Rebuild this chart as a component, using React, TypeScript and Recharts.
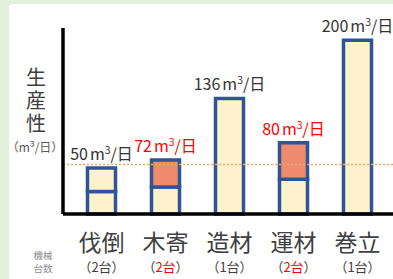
import { BarChart, Bar, XAxis, YAxis, ReferenceLine, LabelList, Cell } from "recharts";

const categories = ["伐倒", "木寄", "造材", "運材", "巻立"];
const machineCounts = ["2台", "2台", "1台", "2台", "1台"];
const countColors = ["#404040", "#FF0000", "#404040", "#FF0000", "#404040"];
const lowerValues = [26, 31, 133, 40, 200];
const upperValues = [27, 31, 0, 42, 0];
const upperFills = ["#FFF2CC", "#EE8B6E", "#FFF2CC", "#EE8B6E", "#FFF2CC"];
const valueLabels = ["50", "72", "136", "80", "200"];
const labelColors = ["#333333", "#FF0000", "#333333", "#FF0000", "#333333"];
const baselineValue = 57;

const data = categories.map((name, i) => ({
  name,
  lower: lowerValues[i],
  upper: upperValues[i],
}));

const FONT = '"Noto Sans CJK JP", "Noto Sans", sans-serif';
const YELLOW = "#FFF2CC";
const BLUE = "#2F5597";

function CategoryTick(props: any) {
  const { x, y, payload, index } = props;
  return (
    <g fontFamily={FONT}>
      <text x={x} y={y + 27} textAnchor="middle" dominantBaseline="central" fontSize={23} fill="#404040">
        {payload.value}
      </text>
      <text x={x} y={y + 52} textAnchor="middle" dominantBaseline="central" fontSize={13} fill="#404040">
        （<tspan fill={countColors[index]}>{machineCounts[index]}</tspan>）
      </text>
    </g>
  );
}

function AxisTitle() {
  return (
    <g fontFamily={FONT} fill="#404040">
      <text x={36} y={67} writingMode="vertical-rl" letterSpacing={3} fontSize={20}>
        生産性
      </text>
      <text x={35} y={146} textAnchor="middle" dominantBaseline="central" fontSize={12} fill="#595959">
        （m³/日）
      </text>
      <text x={43} y={255} textAnchor="middle" dominantBaseline="central" fontSize={9.5} fill="#8C8C8C">
        機械
      </text>
      <text x={43} y={268} textAnchor="middle" dominantBaseline="central" fontSize={9.5} fill="#8C8C8C">
        台数
      </text>
    </g>
  );
}

// attached to the lower segment; lifts the label above the stacked top
function ValueLabel(props: any) {
  const { x, y, width, height, index } = props;
  const pxPerUnit = height / lowerValues[index];
  const top = y - upperValues[index] * pxPerUnit;
  const cx = x + width / 2;
  return (
    <text x={cx} y={top - 15} textAnchor="middle" dominantBaseline="central" fontFamily={FONT} fontSize={16} fill={labelColors[index]}>
      {valueLabels[index]}
      <tspan dx={2}>m</tspan>
      <tspan fontSize={10.5} dy={-4}>3</tspan>
      <tspan dy={4}>/日</tspan>
    </text>
  );
}

export default function App() {
  return (
    <div style={{ position: "absolute", left: 0, top: 0, width: 393, height: 279, background: "#E2EFDA" }}>
      <div style={{ position: "absolute", left: 9, top: 4, right: 0, bottom: 0, background: "#FFFFFF", borderTopLeftRadius: 4 }} />
      <div style={{ position: "absolute", left: 0, top: 0 }}>
        <BarChart width={393} height={279} data={data} margin={{ top: 28, right: 0, bottom: 0, left: 0 }} barSize={28}>
          <ReferenceLine y={baselineValue} stroke="#F4A46B" strokeDasharray="2 2" strokeWidth={1.5} />
          <Bar dataKey="lower" stackId="a" fill={YELLOW} stroke={BLUE} strokeWidth={3.5} isAnimationActive={false}>
            <LabelList dataKey="lower" content={<ValueLabel />} />
          </Bar>
          <Bar dataKey="upper" stackId="a" stroke={BLUE} strokeWidth={3.5} isAnimationActive={false}>
            {data.map((d, i) => (
              <Cell key={d.name} fill={upperFills[i]} />
            ))}
          </Bar>
          <XAxis
            dataKey="name"
            height={65}
            padding={{ left: 6.5, right: 3.5 }}
            tickLine={false}
            tickSize={0}
            tickMargin={0}
            axisLine={{ stroke: "#000000", strokeWidth: 3.5 }}
            tick={<CategoryTick />}
            interval={0}
          />
          <YAxis
            width={63}
            domain={[0, 214]}
            tick={false}
            tickLine={false}
            axisLine={{ stroke: "#000000", strokeWidth: 3.5 }}
            label={<AxisTitle />}
          />
        </BarChart>
      </div>
    </div>
  );
}
